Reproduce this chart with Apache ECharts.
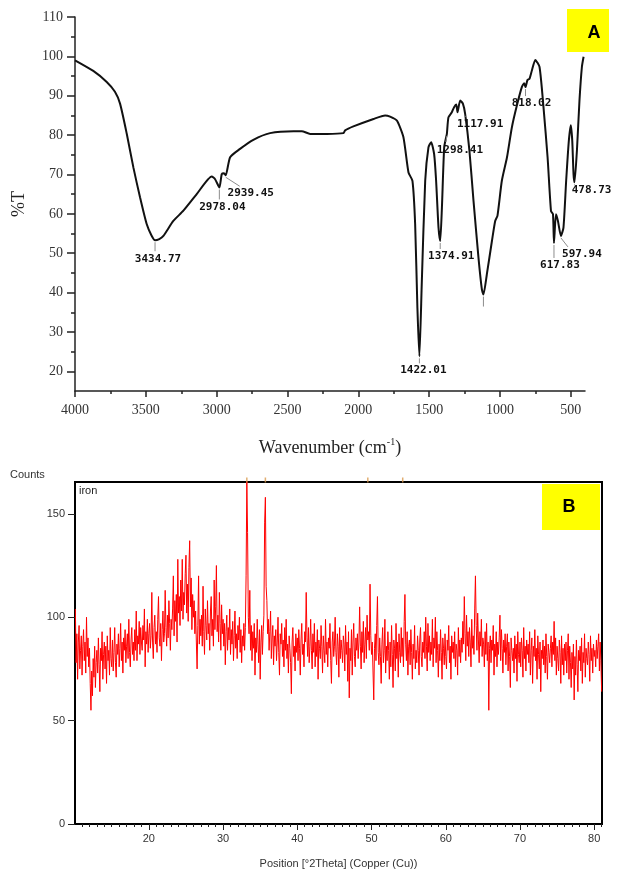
<!DOCTYPE html>
<html>
<head>
<meta charset="utf-8">
<title>FTIR and XRD</title>
<script src="https://cdn.jsdelivr.net/npm/echarts@6.0.0/dist/echarts.min.js"></script>
<style>
  html, body { margin: 0; padding: 0; background: #fff; }
  #chart { width: 619px; height: 870px; }
</style>
</head>
<body>
<div id="chart"></div>
<script>
// ---- panel A : FTIR spectrum ----
var ftirWavenumber = [4000, 3871, 3776, 3718, 3682, 3635, 3588, 3541, 3494, 3460, 3435, 3405, 3376, 3306, 3235, 3141,
  3035, 3011, 2981, 2964, 2948, 2936, 2905, 2835, 2741, 2623, 2458, 2399, 2340, 2222, 2105, 2093, 2035, 1893, 1811,
  1776, 1728, 1682, 1646, 1618, 1599, 1583, 1569, 1552, 1528, 1505, 1486, 1465, 1451, 1434, 1422, 1410, 1394, 1380,
  1375, 1364, 1340, 1324, 1309, 1300, 1281, 1262, 1246, 1216, 1187, 1152, 1128, 1117, 1093, 1057, 1034, 1018, 987,
  951, 916, 881, 846, 829, 820, 806, 792, 775, 751, 721, 693, 664, 640, 626, 619, 605, 591, 570, 552, 533, 514, 500,
  490, 481, 474, 457, 439, 422, 410];
var ftirTransmittance = [99.0, 96.3, 93.5, 91.0, 88.0, 80.4, 71.8, 64.2, 57.4, 54.5, 53.3, 53.6, 54.4, 58.2, 60.8, 65.0,
  69.5, 68.8, 66.7, 70.1, 70.3, 69.8, 74.4, 76.5, 78.8, 80.5, 81.0, 81.0, 80.3, 80.3, 80.5, 81.2, 82.2, 84.1, 85.0,
  84.7, 83.7, 79.5, 70.5, 68.4, 57.4, 36.1, 23.8, 42.6, 68.4, 76.9, 78.2, 75.2, 68.4, 56.5, 53.1, 61.6, 76.9, 79.5,
  80.3, 84.5, 85.8, 87.1, 87.8, 85.8, 88.8, 88.0, 85.4, 76.1, 63.3, 48.9, 40.8, 39.5, 44.6, 53.1, 58.2, 59.5, 68.4,
  74.3, 82.0, 87.5, 92.2, 93.2, 92.2, 94.0, 94.3, 96.4, 99.1, 97.3, 87.1, 74.3, 60.7, 59.9, 52.6, 59.9, 58.2, 54.4,
  56.5, 68.4, 78.6, 82.5, 78.6, 70.1, 68.0, 76.1, 88.8, 97.3, 99.9];

// band labels as printed, and the point of the curve each one points at
var peakText = ['3434.77', '2978.04', '2939.45', '1422.01', '1374.91', '1298.41', '1117.91', '', '818.02', '617.83', '597.94', '478.73'];
var peakWn   = [3435, 2981, 2936, 1569, 1422, 1375, 1246, 1117, 820, 619, 570, 474];
var peakT    = [53.3, 66.7, 69.8, 23.8, 53.1, 80.3, 85.4, 39.5, 92.2, 52.6, 54.4, 68.0];

var ftirXTicks = [4000, 3500, 3000, 2500, 2000, 1500, 1000, 500];
var ftirXMinor = [3750, 3250, 2750, 2250, 1750, 1250, 750];
var ftirYTicks = [20, 30, 40, 50, 60, 70, 80, 90, 100, 110];
var ftirYMinor = [25, 35, 45, 55, 65, 75, 85, 95, 105];

// ---- panel B : XRD pattern, counts every 0.1 deg from 10.1 ----
var xrdStart = 10.1;
var xrdStep = 0.1;
var xrd10s = [
  104, 78, 92, 70, 88, 96, 75, 84, 91, 72,
  86, 94, 79, 88, 73, 100, 81, 90, 76, 85,
  68, 55, 74, 62, 80, 71, 86, 66, 78, 84,
  73, 90, 77, 64, 85, 79, 93, 70, 82, 88,
  75, 86, 68, 91, 79, 84, 72, 95, 80, 76,
  89, 74, 83, 95, 78, 71, 87, 82, 92, 76,
  85, 97, 79, 88, 73, 90, 84, 94, 78, 86,
  92, 80, 99, 83, 76, 89, 95, 82, 88, 79,
  94, 84, 103, 79, 91, 87, 98, 82, 95, 88,
  84, 96, 89, 104, 76, 93, 87, 99, 83, 92];
var xrd20s = [
  97, 85, 91, 112, 88, 80, 95, 101, 87, 93,
  83, 99, 110, 90, 86, 97, 79, 94, 103, 88,
  92, 113, 95, 86, 101, 90, 108, 97, 84, 99,
  94, 104, 120, 91, 108, 98, 111, 88, 128, 102,
  110, 96, 118, 103, 128, 99, 112, 106, 121, 130,
  102, 116, 98, 124, 137, 105, 119, 94, 111, 100,
  108, 92, 103, 88, 75, 96, 120, 87, 99, 91,
  101, 86, 115, 93, 82, 104, 96, 89, 108, 92,
  97, 84, 103, 110, 91, 99, 86, 118, 94, 105,
  125, 93, 101, 88, 112, 97, 84, 106, 92, 99];
var xrd30s = [
  86, 97, 77, 93, 101, 84, 95, 89, 104, 82,
  94, 87, 98, 79, 91, 103, 85, 92, 80, 96,
  89, 100, 83, 94, 78, 91, 86, 97, 84, 95,
  120, 166, 141, 100, 92, 113, 84, 96, 79, 93,
  85, 97, 72, 90, 83, 99, 87, 78, 94, 70,
  88, 96, 82, 93, 101, 146, 158, 115, 108, 92,
  99, 84, 93, 103, 80, 90, 96, 77, 91, 86,
  94, 79, 88, 100, 83, 72, 92, 87, 97, 81,
  89, 76, 95, 84, 99, 80, 87, 73, 91, 85,
  78, 63, 88, 95, 81, 86, 74, 92, 83, 90];
var xrd40s = [
  79, 94, 85, 72, 89, 97, 82, 87, 76, 93,
  88, 112, 90, 81, 95, 78, 86, 99, 84, 75,
  92, 83, 97, 76, 88, 81, 94, 70, 89, 85,
  80, 96, 86, 73, 91, 84, 78, 99, 82, 88,
  76, 90, 85, 97, 79, 68, 88, 93, 81, 86,
  100, 83, 77, 92, 86, 71, 95, 80, 89, 84,
  78, 91, 87, 74, 96, 82, 88, 69, 93, 61,
  85, 79, 94, 72, 88, 97, 81, 76, 90, 84,
  92, 80, 88, 105, 86, 75, 93, 83, 98, 78,
  87, 95, 80, 101, 89, 93, 84, 116, 91, 82];
var xrd50s = [
  88, 74, 60, 85, 92, 79, 96, 110, 83, 77,
  90, 81, 68, 87, 95, 78, 84, 99, 73, 86,
  79, 93, 84, 70, 88, 76, 96, 82, 66, 89,
  85, 74, 97, 80, 88, 71, 92, 83, 78, 95,
  81, 90, 76, 98, 111, 87, 79, 93, 72, 86,
  89, 77, 94, 83, 70, 87, 80, 96, 75, 84,
  78, 91, 84, 72, 89, 95, 81, 76, 88, 83,
  93, 80, 100, 86, 74, 97, 83, 91, 79, 88,
  82, 99, 76, 90, 85, 100, 78, 93, 84, 71,
  87, 79, 94, 83, 70, 90, 85, 77, 92, 81];
var xrd60s = [
  75, 89, 84, 96, 78, 86, 70, 91, 83, 88,
  80, 93, 76, 87, 84, 72, 95, 81, 89, 78,
  90, 83, 98, 87, 110, 92, 79, 101, 86, 93,
  81, 95, 88, 76, 99, 85, 91, 82, 104, 120,
  96, 84, 102, 89, 78, 93, 86, 99, 81, 90,
  87, 76, 93, 82, 97, 79, 88, 55, 85, 91,
  78, 89, 84, 96, 72, 87, 81, 93, 76, 88,
  82, 90, 101, 79, 94, 85, 73, 89, 83, 92,
  77, 86, 92, 74, 88, 81, 66, 90, 84, 79,
  85, 73, 91, 80, 87, 69, 93, 82, 78, 88];
var xrd70s = [
  76, 90, 84, 71, 95, 80, 86, 74, 89, 82,
  87, 78, 93, 72, 84, 90, 68, 86, 81, 94,
  79, 85, 70, 91, 82, 75, 88, 64, 84, 80,
  89, 77, 86, 73, 92, 81, 70, 87, 83, 78,
  85, 91, 76, 88, 82, 98, 79, 90, 72, 86,
  80, 74, 89, 83, 68, 91, 77, 85, 72, 87,
  79, 88, 73, 84, 92, 70, 86, 78, 66, 83,
  75, 87, 60, 81, 72, 89, 77, 64, 84, 79,
  86, 74, 90, 68, 83, 78, 92, 71, 85, 80,
  77, 88, 82, 69, 91, 79, 85, 73, 87, 81,
  84, 76, 89, 80, 86, 92, 74, 88, 79, 64];

var refPeaks = [33.2, 35.7, 49.5, 54.2];   // orange reference marks on the top frame
var xrdXTicks = [20, 30, 40, 50, 60, 70, 80];
var xrdXMinor = [11, 12, 13, 14, 15, 16, 17, 18, 19, 21, 22, 23, 24, 25, 26, 27, 28, 29, 31, 32, 33, 34, 35, 36, 37, 38, 39,
  41, 42, 43, 44, 45, 46, 47, 48, 49, 51, 52, 53, 54, 55, 56, 57, 58, 59, 61, 62, 63, 64, 65, 66, 67, 68, 69,
  71, 72, 73, 74, 75, 76, 77, 78, 79, 81];
var xrdYTicks = [0, 50, 100, 150];
var xrdYMax = 165.4;

// build series data
var ftirData = ftirWavenumber.map(function (w, i) { return [w, ftirTransmittance[i]]; });
var peakData = peakWn.map(function (w, i) { return [w, peakT[i]]; });
var xrdCounts = [].concat(xrd10s, xrd20s, xrd30s, xrd40s, xrd50s, xrd60s, xrd70s);
var xrdData = xrdCounts.map(function (c, i) {
  return [+(xrdStart + i * xrdStep).toFixed(1), c];
});

// label placement (px from the marked point): [labelDx, labelDy, pointerDx, pointerDy]
var peakLabelOffsets = [
  [3, 19, 0, 11], [3, 20, 0, 12], [25, 18, 14, 11], [4, 14, 0, 7], [11, 15, 0, 8], [13, 16, -1, 8],
  [15, 10, 0, 3], [0, 0, 0, 12], [6, 16, 0, 9], [6, 22, 0, 15], [21, 18, 7, 11], [17, 8, 0, 3]
];

var chart = echarts.init(document.getElementById('chart'), null, { renderer: 'canvas' });

var plain = function (v) { return String(v); };
var serifAxis = { fontFamily: 'Liberation Serif', fontSize: 14, color: '#333', formatter: plain };
var sansAxis = { fontFamily: 'Liberation Sans', fontSize: 11, color: '#333', formatter: plain };

chart.setOption({
  backgroundColor: '#fff',
  animation: false,
  grid: [
    { left: 75, top: 17, width: 510, height: 374 },
    { left: 75, top: 482, width: 527, height: 345, show: true, borderColor: '#000', borderWidth: 2, backgroundColor: 'transparent' }
  ],
  xAxis: [
    {
      gridIndex: 0, type: 'value', min: 400, max: 4000, inverse: true, position: 'bottom',
      axisLine: { onZero: false, lineStyle: { color: '#222', width: 1.5 } },
      axisTick: { customValues: ftirXTicks, length: 6, lineStyle: { color: '#222', width: 1.5 } },
      axisLabel: Object.assign({ customValues: ftirXTicks, margin: 12 }, serifAxis),
      splitLine: { show: false },
      name: 'Wavenumber (cm{sup|-1})', nameLocation: 'middle', nameGap: 46,
      nameTextStyle: {
        fontFamily: 'Liberation Serif', fontSize: 18, color: '#222', lineHeight: 22,
        rich: { sup: { fontFamily: 'Liberation Serif', fontSize: 10, color: '#222', verticalAlign: 'top', lineHeight: 22 } }
      }
    },
    {
      gridIndex: 0, type: 'value', min: 400, max: 4000, inverse: true, position: 'bottom',
      axisLine: { show: false, onZero: false },
      axisTick: { customValues: ftirXMinor, length: 3, lineStyle: { color: '#222', width: 1.5 } },
      axisLabel: { show: false }, splitLine: { show: false }
    },
    {
      gridIndex: 1, type: 'value', min: 10.05, max: 81.05, position: 'bottom',
      axisLine: { onZero: false, lineStyle: { color: '#000', width: 2 } },
      axisTick: { customValues: xrdXTicks, length: 6, lineStyle: { color: '#222' } },
      axisLabel: Object.assign({ customValues: xrdXTicks, margin: 9 }, sansAxis),
      splitLine: { show: false },
      name: 'Position [\u00b02Theta] (Copper (Cu))', nameLocation: 'middle', nameGap: 34,
      nameTextStyle: { fontFamily: 'Liberation Sans', fontSize: 11, color: '#333' }
    },
    {
      gridIndex: 1, type: 'value', min: 10.05, max: 81.05, position: 'bottom',
      axisLine: { show: false, onZero: false },
      axisTick: { customValues: xrdXMinor, length: 3, lineStyle: { color: '#222' } },
      axisLabel: { show: false }, splitLine: { show: false }
    }
  ],
  yAxis: [
    {
      gridIndex: 0, type: 'value', min: 15, max: 110, position: 'left',
      axisLine: { show: true, onZero: false, lineStyle: { color: '#222', width: 1.5 } },
      axisTick: { show: true, customValues: ftirYTicks, length: 8, lineStyle: { color: '#222', width: 1.5 } },
      axisLabel: Object.assign({ customValues: ftirYTicks, margin: 12 }, serifAxis),
      splitLine: { show: false },
      name: '%T', nameLocation: 'middle', nameGap: 47, nameRotate: 90,
      nameTextStyle: { fontFamily: 'Liberation Serif', fontSize: 18, color: '#222' }
    },
    {
      gridIndex: 0, type: 'value', min: 15, max: 110, position: 'left',
      axisLine: { show: false, onZero: false },
      axisTick: { show: true, customValues: ftirYMinor, length: 4, lineStyle: { color: '#222', width: 1.5 } },
      axisLabel: { show: false }, splitLine: { show: false }
    },
    {
      gridIndex: 1, type: 'value', min: 0, max: xrdYMax, position: 'left',
      axisLine: { show: true, onZero: false, lineStyle: { color: '#000', width: 2 } },
      axisTick: { show: true, customValues: xrdYTicks, length: 7, lineStyle: { color: '#222' } },
      axisLabel: Object.assign({ customValues: xrdYTicks, margin: 10 }, sansAxis),
      splitLine: { show: false }
    }
  ],
  graphic: [
    { type: 'rect', left: 567, top: 9, shape: { width: 42, height: 43 }, style: { fill: '#ffff00' }, z: 10 },
    { type: 'text', x: 594, y: 33, style: { text: 'A', fontFamily: 'Liberation Sans', fontWeight: 'bold', fontSize: 18, fill: '#000', align: 'center', verticalAlign: 'middle' }, z: 11 },
    { type: 'rect', left: 542, top: 484, shape: { width: 58, height: 46 }, style: { fill: '#ffff00' }, z: 10 },
    { type: 'text', x: 569, y: 507, style: { text: 'B', fontFamily: 'Liberation Sans', fontWeight: 'bold', fontSize: 18, fill: '#000', align: 'center', verticalAlign: 'middle' }, z: 11 },
    { type: 'text', x: 10, y: 469, style: { text: 'Counts', fontFamily: 'Liberation Sans', fontSize: 11, fill: '#333' }, z: 11 },
    { type: 'text', x: 79, y: 485, style: { text: 'iron', fontFamily: 'Liberation Sans', fontSize: 11, fill: '#222' }, z: 11 }
  ],
  series: [
    {
      name: 'FTIR', type: 'line', xAxisIndex: 0, yAxisIndex: 0,
      data: ftirData, showSymbol: false, smooth: 0.2,
      lineStyle: { color: '#111', width: 2 }
    },
    {
      name: 'bands', type: 'custom', xAxisIndex: 0, yAxisIndex: 0, silent: true, clip: false, z: 5,
      data: peakData,
      renderItem: function (params, api) {
        var i = params.dataIndex;
        var p = api.coord([api.value(0), api.value(1)]);
        var o = peakLabelOffsets[i];
        var kids = [{
          type: 'line',
          shape: { x1: p[0], y1: p[1] + 2, x2: p[0] + o[2], y2: p[1] + o[3] },
          style: { stroke: '#8c8c8c', lineWidth: 1 }
        }];
        if (peakText[i]) {
          kids.push({
            type: 'text', x: p[0] + o[0], y: p[1] + o[1],
            style: {
              text: peakText[i], fontFamily: 'DejaVu Sans Mono', fontWeight: 'bold', fontSize: 11,
              fill: '#111', align: 'center', verticalAlign: 'middle'
            }
          });
        }
        return { type: 'group', children: kids };
      }
    },
    {
      name: 'iron', type: 'line', xAxisIndex: 2, yAxisIndex: 2,
      data: xrdData, showSymbol: false,
      lineStyle: { color: '#ff0000', width: 1 }
    },
    {
      name: 'ref', type: 'scatter', xAxisIndex: 2, yAxisIndex: 2, silent: true, clip: false,
      data: refPeaks.map(function (v) { return [v, xrdYMax]; }),
      symbol: 'rect', symbolSize: [1.5, 5], symbolOffset: [0, -2],
      itemStyle: { color: '#d99a4e' }, z: 6
    }
  ]
});
</script>
</body>
</html>
